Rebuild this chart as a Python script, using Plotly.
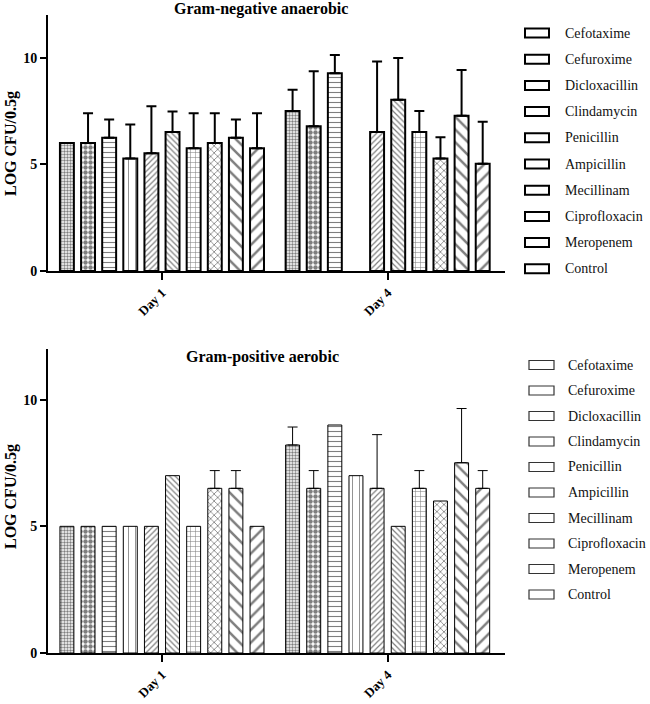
import plotly.graph_objects as go

days = ["Day 1", "Day 4"]
drugs = ["Cefotaxime", "Cefuroxime", "Dicloxacillin", "Clindamycin", "Penicillin",
         "Ampicillin", "Mecillinam", "Ciprofloxacin", "Meropenem", "Control"]

# Gram-negative anaerobic: [Day 1, Day 4] means and upper SD (None = not shown)
neg_mean = [[6.0, 7.5], [6.0, 6.78], [6.25, 9.27], [5.27, None], [5.52, 6.52],
            [6.52, 8.03], [5.75, 6.52], [6.0, 5.27], [6.25, 7.28], [5.75, 5.03]]
neg_err = [[None, 1.0], [1.4, 2.58], [0.85, 0.85], [1.6, None], [2.2, 3.3],
           [0.96, 1.95], [1.65, 0.98], [1.4, 1.0], [0.85, 2.14], [1.65, 1.97]]

# Gram-positive aerobic
pos_mean = [[5.0, 8.21], [5.0, 6.5], [5.0, 9.0], [5.0, 7.0], [5.0, 6.5],
            [7.0, 5.0], [5.0, 6.5], [6.5, 6.0], [6.5, 7.51], [5.0, 6.5]]
pos_err = [[None, 0.71], [None, 0.7], [None, None], [None, None], [None, 2.12],
           [None, None], [None, 0.7], [0.7, None], [0.7, 2.14], [None, 0.7]]

y_ticks = [0, 5, 10]
titles = ["Gram-negative anaerobic", "Gram-positive aerobic"]
y_title = "LOG CFU/0.5g"

# patterns (shape, size, solidity) per drug
patterns = [(".", 3, 0.5), (".", 5, 0.62), ("-", 5, 0.22), ("|", 7, 0.12), ("/", 4, 0.3),
            ("\\", 4, 0.3), ("+", 5, 0.2), ("x", 5, 0.3), ("\\", 9, 0.28), ("/", 9, 0.28)]

W, H = 650, 704
ML, MR, MT, MB = 48, 0, 15, 51
PW, PH = W - ML - MR, H - MT - MB


def px(x):
    return (x - ML) / PW


def py(y):
    return (H - MB - y) / PH


def err_plus(vals):
    # "NaN" makes plotly.js skip the error bar for that point
    return ["NaN" if v is None else v for v in vals]


def err_minus(vals):
    return ["NaN" if v is None else 0 for v in vals]


SERIF = "Liberation Serif"
fig = go.Figure()

for panel, (means, errs, lw, elw) in enumerate([(neg_mean, neg_err, 2, 2), (pos_mean, pos_err, 1, 1)]):
    xa = "x" if panel == 0 else "x2"
    ya = "y" if panel == 0 else "y2"
    for i, d in enumerate(drugs):
        shp, sz, sol = patterns[i]
        fig.add_trace(go.Bar(
            x=days, y=means[i], name=d, xaxis=xa, yaxis=ya, showlegend=False,
            marker=dict(color="white", line=dict(color="black", width=lw),
                        pattern=dict(shape=shp, size=sz, solidity=sol,
                                     fgcolor="black", bgcolor="white", fillmode="overlay")),
            error_y=dict(type="data", symmetric=False, array=err_plus(errs[i]),
                         arrayminus=err_minus(errs[i]), color="black",
                         thickness=elw, width=5),
        ))

x_end = 505
top_dom = [py(271), py(15)]
bot_dom = [py(653), py(349)]

axis_common = dict(showline=True, linecolor="black", linewidth=2, ticks="outside",
                   tickcolor="black", tickwidth=2, showgrid=False, zeroline=False,
                   automargin=False)

xfont = dict(family=SERIF, size=13, color="black", weight="bold")
yfont = dict(family=SERIF, size=14, color="black", weight="bold")

fig.update_layout(
    width=W, height=H, margin=dict(l=ML, r=MR, t=MT, b=MB),
    paper_bgcolor="white", plot_bgcolor="white",
    barmode="group", bargap=0.064, bargroupgap=0.34,
    xaxis=dict(domain=[0, px(x_end)], anchor="y", range=[-0.505, 1.52], tickangle=-45,
               ticklen=7, tickfont=xfont, **axis_common),
    yaxis=dict(domain=top_dom, anchor="x", range=[0, 12], tickvals=y_ticks, ticklen=6,
               tickfont=yfont, **axis_common),
    xaxis2=dict(domain=[0, px(x_end)], anchor="y2", range=[-0.505, 1.52], tickangle=-45,
                ticklen=7, tickfont=xfont, **axis_common),
    yaxis2=dict(domain=bot_dom, anchor="x2", range=[0, 12], tickvals=y_ticks, ticklen=6,
                tickfont=yfont, **axis_common),
)

annotations = []
shapes = []
# titles
for t, (cx, cy) in zip(titles, [(261, 9), (262, 357)]):
    annotations.append(dict(text=t, x=px(cx), y=py(cy), xref="paper", yref="paper",
                            showarrow=False, xanchor="center", yanchor="middle",
                            font=dict(family=SERIF, size=16, color="black", weight="bold")))
# y titles
for cy in [144, 497]:
    annotations.append(dict(text=y_title, x=px(11), y=py(cy), xref="paper", yref="paper",
                            showarrow=False, textangle=-90, xanchor="center", yanchor="middle",
                            font=dict(family=SERIF, size=16, color="black", weight="bold")))
# legends
for (y0, dy, sx0, sx1, tx, lw, lc) in [(33, 26.2, 525, 549, 563, 2, "black"),
                                       (365, 25.5, 529, 554, 566, 1.2, "#333333")]:
    for i, d in enumerate(drugs):
        yc = y0 + i * dy
        shapes.append(dict(type="rect", xref="paper", yref="paper",
                           x0=px(sx0), x1=px(sx1), y0=py(yc + 4.5), y1=py(yc - 4.5),
                           line=dict(color=lc, width=lw), fillcolor="white"))
        annotations.append(dict(text=d, x=px(tx), y=py(yc), xref="paper", yref="paper",
                                showarrow=False, xanchor="left", yanchor="middle",
                                font=dict(family=SERIF, size=14, color="#111111")))

fig.update_layout(annotations=annotations, shapes=shapes)
fig.write_html("out.html", config={"displayModeBar": False},
               post_script="document.body.style.margin='0px';document.body.style.overflow='hidden';")
